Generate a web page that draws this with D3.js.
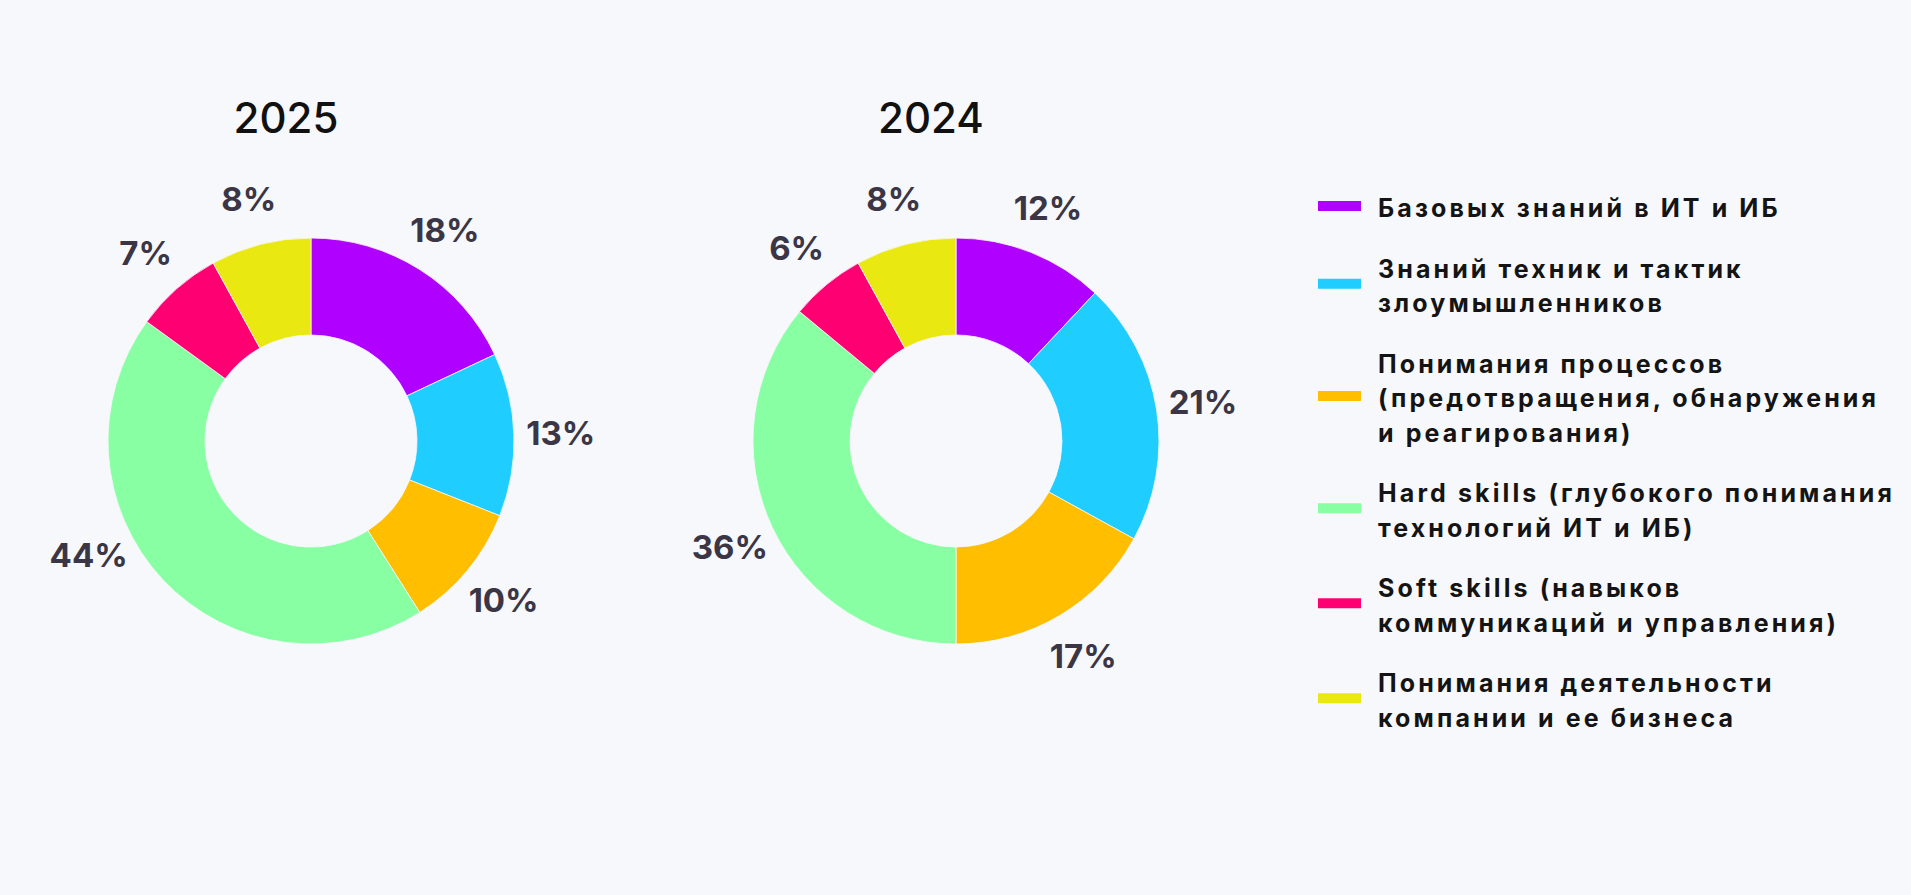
<!DOCTYPE html>
<html>
<head>
  <meta charset="utf-8">
  <script src="https://cdn.jsdelivr.net/npm/d3@7"></script>
  <style>
    html, body { margin: 0; padding: 0; background: #f7f8fc; }
    svg { display: block; }
  </style>
</head>
<body>
<script type="text/javascript">

// data
var years = ["2025", "2024"];
var values2025 = [18, 13, 10, 44, 7, 8];
var values2024 = [12, 21, 17, 36, 6, 8];
var categories = [
    ["Базовых знаний в ИТ и ИБ"],
    ["Знаний техник и тактик", "злоумышленников"],
    ["Понимания процессов", "(предотвращения, обнаружения", "и реагирования)"],
    ["Hard skills (глубокого понимания", "технологий ИТ и ИБ)"],
    ["Soft skills (навыков", "коммуникаций и управления)"],
    ["Понимания деятельности", "компании и ее бизнеса"]
];
var colors = ["#b000ff", "#20cdff", "#ffbe00", "#87ffa2", "#ff0073", "#eae811"];

"use strict";
var width = 1911,
    height = 895,
    outerR = 203,
    innerR = 106,
    labelR = 250;

var svg = d3.select("body")
    .append("svg")
    .attr("width", width)
    .attr("height", height);

svg.append("rect")
    .attr("width", width)
    .attr("height", height)
    .style("fill", "#f7f8fc");

var color = d3.scaleOrdinal().domain(d3.range(categories.length)).range(colors);

var pie = d3.pie().sort(null).value(function (d) { return d; });
var arc = d3.arc().innerRadius(innerR).outerRadius(outerR);

// donut centres
var cx = d3.scalePoint().domain(years).range([311, 956]);
var cy = 441;

// one label sits off its slice's middle in the original
var labelNudge = { "2025-3": 16 };

function labelAngle(d, key) {
    return (d.startAngle + d.endAngle) / 2 + (labelNudge[key] || 0) * Math.PI / 180;
}

[values2025, values2024].forEach(function (vals, k) {
    var yr = years[k];
    var g = svg.append("g")
        .attr("transform", "translate(" + cx(yr) + "," + cy + ")");

    g.selectAll("path")
        .data(pie(vals))
        .enter().append("path")
        .attr("d", arc)
        .style("fill", function (d, i) { return color(i); })
        .style("stroke", "#f7f8fc")
        .style("stroke-width", 0.8);

    g.selectAll("text.pct")
        .data(pie(vals))
        .enter().append("text")
        .attr("class", "pct")
        .attr("x", function (d, i) { return Math.sin(labelAngle(d, yr + "-" + i)) * labelR; })
        .attr("y", function (d, i) { return -Math.cos(labelAngle(d, yr + "-" + i)) * labelR; })
        .attr("dy", "0.36em")
        .style("text-anchor", "middle")
        .style("font-family", "Inter, sans-serif")
        .style("font-weight", "700")
        .style("font-size", "33px")
        .style("fill", "#3b3646")
        .text(function (d) { return d.data + "%"; });

    svg.append("text")
        .attr("x", cx(yr) - 25)
        .attr("y", 133)
        .style("text-anchor", "middle")
        .style("font-family", "Inter, sans-serif")
        .style("font-weight", "500")
        .style("font-size", "42px")
        .style("fill", "#111111")
        .text(yr);
});

// legend
var lineH = 34.5,
    itemGap = 26,
    legX = 1318,
    y0 = 217;

var legend = svg.append("g");
var by = y0;
categories.forEach(function (lines, i) {
    var item = legend.append("g");
    lines.forEach(function (t, j) {
        item.append("text")
            .attr("x", legX + 60)
            .attr("y", by + j * lineH)
            .style("font-family", "Inter, sans-serif")
            .style("font-weight", "700")
            .style("font-size", "25px")
            .style("letter-spacing", "3.1px")
            .style("fill", "#141414")
            .text(t);
    });
    var mid = by + (lines.length - 1) * lineH / 2;
    item.append("rect")
        .attr("x", legX)
        .attr("y", mid - 16)
        .attr("width", 43)
        .attr("height", 10)
        .style("fill", color(i));
    by += (lines.length - 1) * lineH + lineH + itemGap;
});

</script>
</body>
</html>
